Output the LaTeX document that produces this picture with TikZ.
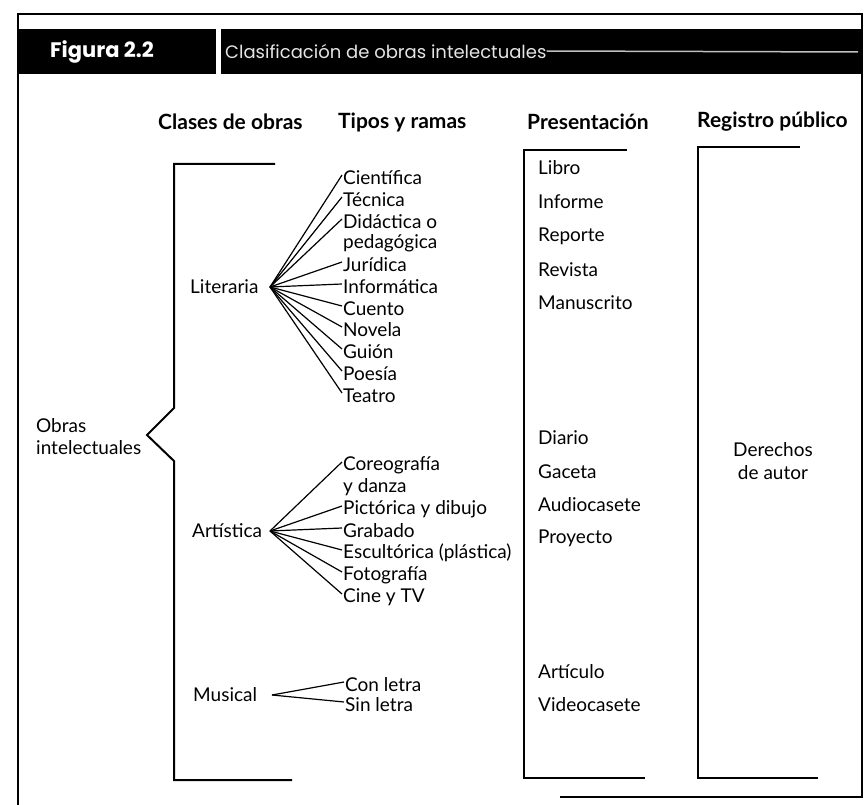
\documentclass[tikz,border=0pt]{standalone}
\usepackage{fontspec}
\setmainfont{Lato}
\newfontfamily\headfont{Poppins}
\begin{document}
\begin{tikzpicture}[x=1pt,y=-1pt,
  txt/.style={anchor=west,inner sep=0pt,font=\fontsize{19}{22}\selectfont},
  hdr/.style={anchor=west,inner sep=0pt,font=\fontsize{21}{24}\selectfont\bfseries},
  brk/.style={line width=2pt,line join=miter},
  fan/.style={line width=1.2pt},
  frame/.style={line width=1.5pt}]
\useasboundingbox (0,0) rectangle (867,805);

% outer frame (the bottom edge only runs along the right-hand part)
\coordinate (fBL) at (18,805);
\coordinate (fTL) at (18,14);
\coordinate (fTR) at (862,14);
\coordinate (fBR) at (862,797);
\coordinate (fB) at (560,797);
\draw[frame] (fBL) -- (fTL) -- (fTR) -- (fBR) -- (fB);

% title bar
\fill[black] (18,29) rectangle (216,74);
\fill[black] (221,29) rectangle (862,74);
\node[anchor=west,inner sep=0pt,text=white,font=\headfont\fontsize{21}{24}\selectfont\bfseries] (fig) at (50,52) {Figura 2.2};
\node[anchor=west,inner sep=0pt,text=white!90!black,font=\headfont\fontsize{18}{20}\selectfont] (ttl) at (225,51) {Clasificación de obras intelectuales};
\coordinate (streakEnd) at (858,52);
\draw[white!75!black,line width=1.5pt] (ttl.east) -- (streakEnd);

% column headings
\node[hdr] (h1) at (158,122) {Clases de obras};
\node[hdr] (h2) at (338,122) {Tipos y ramas};
\node[hdr] (h3) at (527,122) {Presentación};
\node[hdr] (h4) at (697,122) {Registro público};

% main bracket
\coordinate (b1) at (275,164);
\coordinate (b2) at (174,164);
\coordinate (b3) at (174,408);
\coordinate (tip) at (147,435);
\coordinate (b4) at (174,461);
\coordinate (b5) at (174,780);
\coordinate (b6) at (292,780);
\draw[brk] (b1) -- (b2) -- (b3) -- (tip) -- (b4) -- (b5) -- (b6);
\node[txt,align=left] (obras) at (36,437) {Obras\\intelectuales};

% Literaria
\node[txt] (lit) at (190,287) {Literaria};
\coordinate (litO) at (270,287);
\foreach \n/\t/\y in {l1/Científica/178,l2/Técnica/200,l3/Didáctica o/222,l5/Jurídica/265,l6/Informática/287,l7/Cuento/309,l8/Novela/330,l9/Guión/352,l10/Poesía/374,l11/Teatro/396}{
  \node[txt] (\n) at (343,\y) {\t};
  \draw[fan] (litO) -- ([xshift=-1pt,yshift=3pt]\n.west);
}
\node[txt] (l4) at (343,243) {pedagógica};

% Artística
\node[txt] (art) at (192,531) {Artística};
\coordinate (artO) at (270,531);
\foreach \n/\t/\y in {a1/Coreografía/465,a3/Pictórica y dibujo/509,a4/Grabado/531,a5/Escultórica (plástica)/553,a6/Fotografía/575,a7/Cine y TV/597}{
  \node[txt] (\n) at (343,\y) {\t};
  \draw[fan] (artO) -- ([xshift=-1pt,yshift=3pt]\n.west);
}
\node[txt] (a2) at (343,487) {y danza};

% Musical
\node[txt] (mus) at (193,695) {Musical};
\coordinate (musO) at (272,695);
\foreach \n/\t/\y in {m1/Con letra/685,m2/Sin letra/705}{
  \node[txt] (\n) at (345,\y) {\t};
  \draw[fan] (musO) -- ([xshift=-1pt,yshift=3pt]\n.west);
}

% Presentación column
\coordinate (p1) at (627,150);
\coordinate (p2) at (524,150);
\coordinate (p3) at (524,778);
\coordinate (p4) at (645,778);
\draw[brk] (p1) -- (p2) -- (p3) -- (p4);
\foreach \n/\t/\y in {pr1/Libro/168,pr2/Informe/202,pr3/Reporte/236,pr4/Revista/270,pr5/Manuscrito/303,pr6/Diario/438,pr7/Gaceta/472,pr8/Audiocasete/505,pr9/Proyecto/538,pr10/Artículo/672,pr11/Videocasete/705}{
  \node[txt] (\n) at (538,\y) {\t};
}

% Registro público column
\coordinate (r1) at (800,147);
\coordinate (r2) at (698,147);
\coordinate (r3) at (698,778);
\coordinate (r4) at (818,778);
\draw[brk] (r1) -- (r2) -- (r3) -- (r4);
\node[inner sep=0pt,align=center,font=\fontsize{19}{23}\selectfont] (der) at (773,461) {Derechos\\de autor};
\end{tikzpicture}
\end{document}
